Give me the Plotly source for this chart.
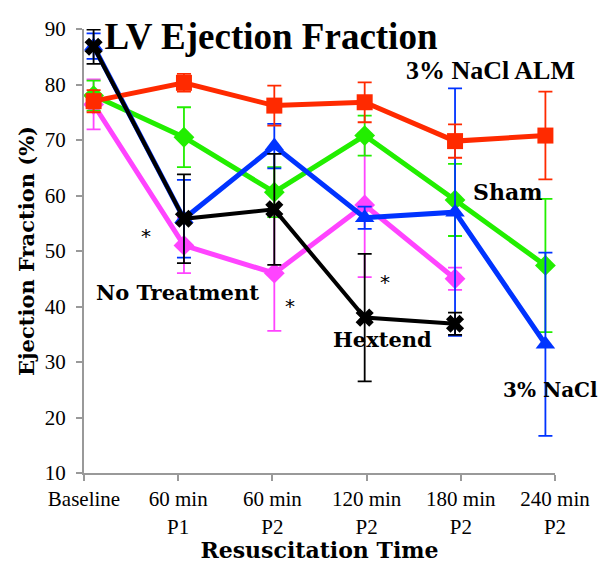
import plotly.graph_objects as go

categories = ["Baseline", "60 min<br>P1", "60 min<br>P2", "120 min<br>P2", "180 min<br>P2", "240 min<br>P2"]
x_idx = [0, 1, 2, 3, 4, 5]

alm_vals = [77.0, 80.3, 76.2, 76.8, 69.8, 70.8]
alm_err = [2.0, 1.6, 3.6, 3.6, 3.0, 7.9]

sham_vals = [78.0, 70.5, 60.6, 70.8, 59.2, 47.4]
sham_err = [2.7, 5.4, 4.5, 3.6, 6.5, 12.0]

nacl_vals = [86.9, 55.8, 68.9, 56.0, 57.0, 33.2]
nacl_err = [2.3, 7.0, 4.0, 2.0, 22.3, 16.5]

notreat_vals = [76.4, 51.0, 46.0, 58.3, 45.0]
notreat_err = [4.5, 5.0, 10.4, 13.0, 2.0]

hextend_vals = [86.8, 55.8, 57.5, 38.0, 36.9]
hextend_err = [3.1, 8.0, 10.0, 11.5, 2.0]

series = [
    ("No Treatment", notreat_vals, notreat_err, "#ff44ff", "diamond", 16, 5),
    ("Sham", sham_vals, sham_err, "#22ee00", "diamond", 16, 5),
    ("3% NaCl", nacl_vals, nacl_err, "#0033ff", "triangle-up", 17, 5),
    ("3% NaCl ALM", alm_vals, alm_err, "#ff2a00", "square", 16, 5),
    ("Hextend", hextend_vals, hextend_err, "#000000", "x", 16, 4),
]

# geometry: visible axis spans 0..5 ; overlay axis slightly wider so end error bars are not clipped
L, R = 74, 38
plot_w = 603 - L - R
pad = 10
unit = (plot_w - 2 * pad) / 5.0
ext = pad / unit

fig = go.Figure()
# invisible anchor trace for the visible axes
fig.add_trace(go.Scatter(x=[0], y=[10], mode="markers", marker=dict(opacity=0),
                         hoverinfo="skip", showlegend=False))
for name, vals, err, color, sym, msize, lw in series:
    fig.add_trace(go.Scatter(
        x=x_idx[:len(vals)], y=vals, mode="lines+markers", name=name,
        xaxis="x2", yaxis="y",
        line=dict(color=color, width=lw),
        marker=dict(symbol=sym, size=msize, color=color, line=dict(width=0)),
        error_y=dict(type="data", array=err, visible=True, color=color, thickness=1.8, width=7),
        cliponaxis=False,
    ))

serif = "Liberation Serif"
wide = "DejaVu Serif"
labels = [
    ("3% NaCl ALM", 4.31, 82.6, serif, 26),
    ("Sham", 4.5, 60.6, wide, 22),
    ("No Treatment", 0.99, 42.6, wide, 21),
    ("Hextend", 3.17, 34.0, wide, 21),
    ("3% NaCl", 4.95, 24.9, wide, 20),
]
for txt, x, y, fam, sz in labels:
    fig.add_annotation(x=x, y=y, xref="x", yref="y", text="<b>" + txt + "</b>", showarrow=False,
                       font=dict(family=fam, size=sz, color="black"))

stars = [(0.66, 52.7), (2.19, 40.1), (3.2, 44.4)]
for x, y in stars:
    fig.add_annotation(x=x, y=y, xref="x", yref="y", text="*", showarrow=False,
                       font=dict(family="DejaVu Sans", size=20, color="#000000"))

axis_common = dict(showgrid=False, zeroline=False, showline=True, linecolor="#999999", linewidth=2,
                   ticks="outside", ticklen=6, tickcolor="#999999", tickwidth=2, automargin=False,
                   tickfont=dict(family=serif, size=21, color="black"))

fig.update_layout(
    width=603, height=563,
    margin=dict(l=L, r=R, t=29, b=90),
    paper_bgcolor="white", plot_bgcolor="white",
    showlegend=False,
    title=dict(text="<b>LV Ejection Fraction</b>", x=271/603, xanchor="center",
               y=1-36/563, yanchor="middle", automargin=False,
               font=dict(family=serif, size=37, color="black")),
    xaxis=dict(range=[0, 5], domain=[pad / plot_w, 1 - pad / plot_w],
               tickvals=x_idx, ticktext=categories, ticklabelstandoff=0,
               title=dict(text="<b>Resuscitation Time</b>", font=dict(family=wide, size=22, color="black"), standoff=2),
               **axis_common),
    xaxis2=dict(range=[-ext, 5 + ext], domain=[0, 1], overlaying="x", anchor="y", visible=False),
    yaxis=dict(range=[10, 90], dtick=10, tick0=10, anchor="x", ticklabelstandoff=6,
               title=dict(text="<b>Ejection Fraction (%)</b>", font=dict(family=wide, size=21, color="black"), standoff=4),
               **axis_common),
)

fig.write_html("out.html")
